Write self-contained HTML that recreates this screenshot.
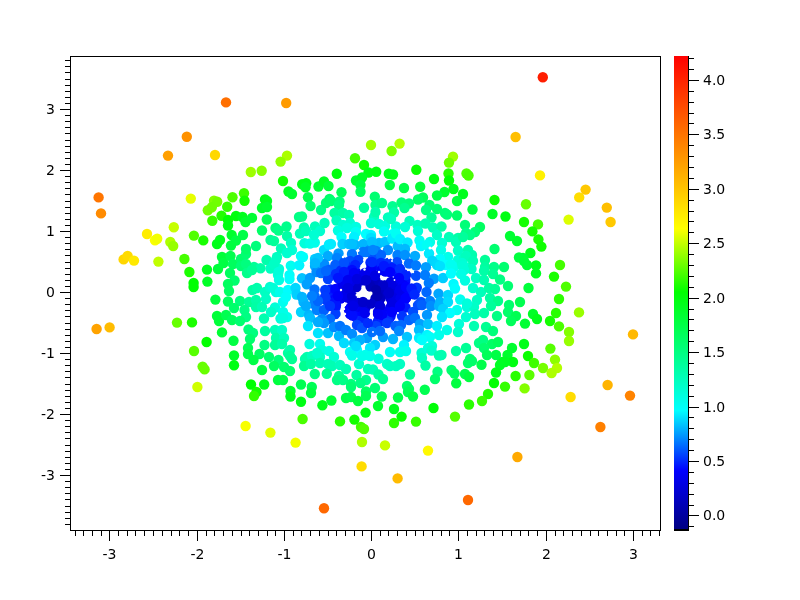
<!DOCTYPE html><html><head><meta charset="utf-8"><title>Scatter</title><style>html,body{margin:0;padding:0;background:#fff;overflow:hidden}svg{display:block}text{font-family:"DejaVu Sans","Liberation Sans",sans-serif;font-size:14px;fill:#000}</style></head><body>
<svg width="800" height="600" viewBox="0 0 800 600">
<rect width="800" height="600" fill="#fff"/>
<g>
<circle cx="350.5" cy="262.5" r="5.20" fill="#0041ff"/>
<circle cx="355.5" cy="262.5" r="5.20" fill="#0036ff"/>
<circle cx="370.5" cy="262.5" r="5.20" fill="#0027ff"/>
<circle cx="375.5" cy="262.5" r="5.20" fill="#0028ff"/>
<circle cx="380.5" cy="262.5" r="5.20" fill="#002cff"/>
<circle cx="343.0" cy="267.0" r="5.20" fill="#0039ff"/>
<circle cx="348.0" cy="267.0" r="5.20" fill="#0029ff"/>
<circle cx="353.0" cy="267.0" r="5.20" fill="#001cff"/>
<circle cx="373.0" cy="267.0" r="5.20" fill="#0005ff"/>
<circle cx="383.0" cy="267.0" r="5.20" fill="#000eff"/>
<circle cx="388.0" cy="267.0" r="5.20" fill="#0018ff"/>
<circle cx="393.0" cy="267.0" r="5.20" fill="#0024ff"/>
<circle cx="398.0" cy="267.0" r="5.20" fill="#0032ff"/>
<circle cx="340.5" cy="271.5" r="5.20" fill="#0028ff"/>
<circle cx="345.5" cy="271.5" r="5.20" fill="#0016ff"/>
<circle cx="350.5" cy="271.5" r="5.20" fill="#0006ff"/>
<circle cx="355.5" cy="271.5" r="5.20" fill="#0000fb"/>
<circle cx="370.5" cy="271.5" r="5.20" fill="#0000f0"/>
<circle cx="385.5" cy="271.5" r="5.20" fill="#0000f9"/>
<circle cx="390.5" cy="271.5" r="5.20" fill="#0000ff"/>
<circle cx="395.5" cy="271.5" r="5.20" fill="#000fff"/>
<circle cx="400.5" cy="271.5" r="5.20" fill="#0021ff"/>
<circle cx="338.0" cy="276.0" r="5.20" fill="#001dff"/>
<circle cx="343.0" cy="276.0" r="5.20" fill="#0008ff"/>
<circle cx="348.0" cy="276.0" r="5.20" fill="#0000f9"/>
<circle cx="353.0" cy="276.0" r="5.20" fill="#0000f0"/>
<circle cx="358.0" cy="276.0" r="5.20" fill="#0000e9"/>
<circle cx="363.0" cy="276.0" r="5.20" fill="#0000e3"/>
<circle cx="368.0" cy="276.0" r="5.20" fill="#0000e0"/>
<circle cx="373.0" cy="276.0" r="5.20" fill="#0000df"/>
<circle cx="403.0" cy="276.0" r="5.20" fill="#0014ff"/>
<circle cx="340.5" cy="280.5" r="5.20" fill="#0000ff"/>
<circle cx="345.5" cy="280.5" r="5.20" fill="#0000f3"/>
<circle cx="350.5" cy="280.5" r="5.20" fill="#0000e8"/>
<circle cx="355.5" cy="280.5" r="5.20" fill="#0000df"/>
<circle cx="360.5" cy="280.5" r="5.20" fill="#0000d6"/>
<circle cx="365.5" cy="280.5" r="5.20" fill="#0000d0"/>
<circle cx="370.5" cy="280.5" r="5.20" fill="#0000ce"/>
<circle cx="375.5" cy="280.5" r="5.20" fill="#0000cf"/>
<circle cx="400.5" cy="280.5" r="5.20" fill="#0000fa"/>
<circle cx="405.5" cy="280.5" r="5.20" fill="#000dff"/>
<circle cx="348.0" cy="285.0" r="5.20" fill="#0000e5"/>
<circle cx="353.0" cy="285.0" r="5.20" fill="#0000d9"/>
<circle cx="373.0" cy="285.0" r="5.20" fill="#0000bd"/>
<circle cx="378.0" cy="285.0" r="5.20" fill="#0000c1"/>
<circle cx="388.0" cy="285.0" r="5.20" fill="#0000d4"/>
<circle cx="398.0" cy="285.0" r="5.20" fill="#0000ec"/>
<circle cx="403.0" cy="285.0" r="5.20" fill="#0000f9"/>
<circle cx="330.5" cy="289.5" r="5.20" fill="#001eff"/>
<circle cx="350.5" cy="289.5" r="5.20" fill="#0000d9"/>
<circle cx="380.5" cy="289.5" r="5.20" fill="#0000ba"/>
<circle cx="385.5" cy="289.5" r="5.20" fill="#0000c7"/>
<circle cx="390.5" cy="289.5" r="5.20" fill="#0000d4"/>
<circle cx="395.5" cy="289.5" r="5.20" fill="#0000e1"/>
<circle cx="400.5" cy="289.5" r="5.20" fill="#0000ee"/>
<circle cx="405.5" cy="289.5" r="5.20" fill="#0000fc"/>
<circle cx="410.5" cy="289.5" r="5.20" fill="#0013ff"/>
<circle cx="415.5" cy="289.5" r="5.20" fill="#002eff"/>
<circle cx="333.0" cy="294.0" r="5.20" fill="#0010ff"/>
<circle cx="348.0" cy="294.0" r="5.20" fill="#0000df"/>
<circle cx="378.0" cy="294.0" r="5.20" fill="#0000b2"/>
<circle cx="383.0" cy="294.0" r="5.20" fill="#0000bf"/>
<circle cx="388.0" cy="294.0" r="5.20" fill="#0000cc"/>
<circle cx="393.0" cy="294.0" r="5.20" fill="#0000da"/>
<circle cx="398.0" cy="294.0" r="5.20" fill="#0000e7"/>
<circle cx="403.0" cy="294.0" r="5.20" fill="#0000f4"/>
<circle cx="408.0" cy="294.0" r="5.20" fill="#0005ff"/>
<circle cx="413.0" cy="294.0" r="5.20" fill="#0020ff"/>
<circle cx="330.5" cy="298.5" r="5.20" fill="#0021ff"/>
<circle cx="335.5" cy="298.5" r="5.20" fill="#0008ff"/>
<circle cx="340.5" cy="298.5" r="5.20" fill="#0000f6"/>
<circle cx="350.5" cy="298.5" r="5.20" fill="#0000dd"/>
<circle cx="375.5" cy="298.5" r="5.20" fill="#0000b9"/>
<circle cx="380.5" cy="298.5" r="5.20" fill="#0000c1"/>
<circle cx="390.5" cy="298.5" r="5.20" fill="#0000d8"/>
<circle cx="395.5" cy="298.5" r="5.20" fill="#0000e4"/>
<circle cx="400.5" cy="298.5" r="5.20" fill="#0000f1"/>
<circle cx="405.5" cy="298.5" r="5.20" fill="#0000fe"/>
<circle cx="333.0" cy="303.0" r="5.20" fill="#001eff"/>
<circle cx="353.0" cy="303.0" r="5.20" fill="#0000e0"/>
<circle cx="358.0" cy="303.0" r="5.20" fill="#0000d6"/>
<circle cx="363.0" cy="303.0" r="5.20" fill="#0000ce"/>
<circle cx="378.0" cy="303.0" r="5.20" fill="#0000cc"/>
<circle cx="393.0" cy="303.0" r="5.20" fill="#0000e6"/>
<circle cx="398.0" cy="303.0" r="5.20" fill="#0000f1"/>
<circle cx="403.0" cy="303.0" r="5.20" fill="#0000fd"/>
<circle cx="335.5" cy="307.5" r="5.20" fill="#0022ff"/>
<circle cx="350.5" cy="307.5" r="5.20" fill="#0000f0"/>
<circle cx="355.5" cy="307.5" r="5.20" fill="#0000e7"/>
<circle cx="360.5" cy="307.5" r="5.20" fill="#0000e0"/>
<circle cx="365.5" cy="307.5" r="5.20" fill="#0000db"/>
<circle cx="380.5" cy="307.5" r="5.20" fill="#0000de"/>
<circle cx="390.5" cy="307.5" r="5.20" fill="#0000ed"/>
<circle cx="395.5" cy="307.5" r="5.20" fill="#0000f6"/>
<circle cx="400.5" cy="307.5" r="5.20" fill="#0003ff"/>
<circle cx="405.5" cy="307.5" r="5.20" fill="#0019ff"/>
<circle cx="353.0" cy="312.0" r="5.20" fill="#0000f9"/>
<circle cx="358.0" cy="312.0" r="5.20" fill="#0000f3"/>
<circle cx="363.0" cy="312.0" r="5.20" fill="#0000ee"/>
<circle cx="378.0" cy="312.0" r="5.20" fill="#0000ec"/>
<circle cx="383.0" cy="312.0" r="5.20" fill="#0000f1"/>
<circle cx="388.0" cy="312.0" r="5.20" fill="#0000f7"/>
<circle cx="355.5" cy="316.5" r="5.20" fill="#000cff"/>
<circle cx="360.5" cy="316.5" r="5.20" fill="#0003ff"/>
<circle cx="380.5" cy="316.5" r="5.20" fill="#0000ff"/>
<circle cx="385.5" cy="316.5" r="5.20" fill="#0008ff"/>
<circle cx="390.5" cy="316.5" r="5.20" fill="#0013ff"/>
<circle cx="358.0" cy="321.0" r="5.20" fill="#0027ff"/>
<circle cx="363.0" cy="321.0" r="5.20" fill="#0020ff"/>
<circle cx="378.0" cy="321.0" r="5.20" fill="#001eff"/>
<circle cx="383.0" cy="321.0" r="5.20" fill="#0024ff"/>
<circle cx="388.0" cy="321.0" r="5.20" fill="#002cff"/>
<circle cx="186.8" cy="136.8" r="5.20" fill="#ff9200"/>
<circle cx="168.0" cy="155.6" r="5.20" fill="#ff9f00"/>
<circle cx="215.0" cy="155.0" r="5.20" fill="#ffd800"/>
<circle cx="226.0" cy="102.4" r="5.20" fill="#ff6f00"/>
<circle cx="286.2" cy="103.0" r="5.20" fill="#ff9b00"/>
<circle cx="355.0" cy="158.2" r="5.20" fill="#45ff00"/>
<circle cx="364.0" cy="165.0" r="5.20" fill="#11ff00"/>
<circle cx="287.0" cy="155.6" r="5.20" fill="#abff00"/>
<circle cx="280.6" cy="161.6" r="5.20" fill="#91ff00"/>
<circle cx="371.0" cy="145.0" r="5.20" fill="#a0ff00"/>
<circle cx="399.6" cy="143.6" r="5.20" fill="#b3ff00"/>
<circle cx="391.6" cy="151.0" r="5.20" fill="#7aff00"/>
<circle cx="453.0" cy="156.6" r="5.20" fill="#9fff00"/>
<circle cx="449.0" cy="162.6" r="5.20" fill="#6fff00"/>
<circle cx="515.6" cy="137.0" r="5.20" fill="#ffbf00"/>
<circle cx="542.8" cy="77.2" r="5.20" fill="#ff1e00"/>
<circle cx="98.6" cy="197.4" r="5.20" fill="#ff7500"/>
<circle cx="101.0" cy="213.4" r="5.20" fill="#ff8b00"/>
<circle cx="190.8" cy="198.6" r="5.20" fill="#e6ff00"/>
<circle cx="173.8" cy="227.2" r="5.20" fill="#c6ff00"/>
<circle cx="147.0" cy="234.0" r="5.20" fill="#ffed00"/>
<circle cx="155.0" cy="240.2" r="5.20" fill="#faff00"/>
<circle cx="157.2" cy="238.8" r="5.20" fill="#f3ff00"/>
<circle cx="170.3" cy="242.0" r="5.20" fill="#aeff00"/>
<circle cx="173.2" cy="246.0" r="5.20" fill="#96ff00"/>
<circle cx="193.9" cy="235.6" r="5.20" fill="#51ff00"/>
<circle cx="203.3" cy="240.4" r="5.20" fill="#18ff00"/>
<circle cx="214.0" cy="200.7" r="5.20" fill="#82ff00"/>
<circle cx="217.2" cy="201.7" r="5.20" fill="#71ff00"/>
<circle cx="207.8" cy="210.2" r="5.20" fill="#71ff00"/>
<circle cx="211.8" cy="207.2" r="5.20" fill="#6eff00"/>
<circle cx="227.2" cy="206.8" r="5.20" fill="#33ff00"/>
<circle cx="232.5" cy="197.2" r="5.20" fill="#4eff00"/>
<circle cx="244.0" cy="193.2" r="5.20" fill="#3bff00"/>
<circle cx="244.5" cy="200.8" r="5.20" fill="#12ff00"/>
<circle cx="212.3" cy="220.8" r="5.20" fill="#34ff00"/>
<circle cx="221.5" cy="215.8" r="5.20" fill="#22ff00"/>
<circle cx="228.0" cy="220.0" r="5.20" fill="#00ff05"/>
<circle cx="228.0" cy="225.5" r="5.20" fill="#00ff11"/>
<circle cx="236.0" cy="216.0" r="5.20" fill="#00ff0d"/>
<circle cx="242.5" cy="217.0" r="5.20" fill="#00ff1d"/>
<circle cx="245.5" cy="222.0" r="5.20" fill="#00ff2f"/>
<circle cx="252.0" cy="217.9" r="5.20" fill="#00ff33"/>
<circle cx="220.0" cy="240.0" r="5.20" fill="#00ff1b"/>
<circle cx="231.7" cy="235.0" r="5.20" fill="#00ff2d"/>
<circle cx="243.0" cy="235.0" r="5.20" fill="#00ff47"/>
<circle cx="236.0" cy="240.5" r="5.20" fill="#00ff42"/>
<circle cx="250.8" cy="172.0" r="5.20" fill="#9dff00"/>
<circle cx="261.7" cy="170.7" r="5.20" fill="#86ff00"/>
<circle cx="283.0" cy="181.0" r="5.20" fill="#11ff00"/>
<circle cx="288.5" cy="191.5" r="5.20" fill="#00ff21"/>
<circle cx="292.0" cy="194.0" r="5.20" fill="#00ff2e"/>
<circle cx="302.2" cy="184.2" r="5.20" fill="#00ff19"/>
<circle cx="306.2" cy="183.2" r="5.20" fill="#00ff1a"/>
<circle cx="305.5" cy="187.2" r="5.20" fill="#00ff27"/>
<circle cx="318.5" cy="186.5" r="5.20" fill="#00ff31"/>
<circle cx="324.0" cy="181.5" r="5.20" fill="#00ff24"/>
<circle cx="308.0" cy="197.2" r="5.20" fill="#00ff4d"/>
<circle cx="310.5" cy="206.0" r="5.20" fill="#00ff6e"/>
<circle cx="321.0" cy="210.0" r="5.20" fill="#00ff88"/>
<circle cx="326.0" cy="203.0" r="5.20" fill="#00ff74"/>
<circle cx="329.5" cy="199.0" r="5.20" fill="#00ff68"/>
<circle cx="265.0" cy="199.5" r="5.20" fill="#00ff17"/>
<circle cx="267.0" cy="201.0" r="5.20" fill="#00ff1f"/>
<circle cx="262.0" cy="208.0" r="5.20" fill="#00ff2b"/>
<circle cx="267.0" cy="207.0" r="5.20" fill="#00ff31"/>
<circle cx="266.8" cy="219.5" r="5.20" fill="#00ff54"/>
<circle cx="299.0" cy="217.0" r="5.20" fill="#00ff83"/>
<circle cx="302.0" cy="216.5" r="5.20" fill="#00ff86"/>
<circle cx="368.5" cy="172.5" r="5.20" fill="#00ff14"/>
<circle cx="376.2" cy="171.8" r="5.20" fill="#00ff11"/>
<circle cx="388.8" cy="173.8" r="5.20" fill="#00ff17"/>
<circle cx="393.0" cy="174.5" r="5.20" fill="#00ff18"/>
<circle cx="336.8" cy="173.8" r="5.20" fill="#00ff0f"/>
<circle cx="328.5" cy="186.0" r="5.20" fill="#00ff38"/>
<circle cx="356.0" cy="180.5" r="5.20" fill="#00ff31"/>
<circle cx="362.0" cy="177.5" r="5.20" fill="#00ff26"/>
<circle cx="360.5" cy="185.0" r="5.20" fill="#00ff43"/>
<circle cx="360.5" cy="191.8" r="5.20" fill="#00ff5d"/>
<circle cx="341.5" cy="192.2" r="5.20" fill="#00ff57"/>
<circle cx="389.8" cy="185.0" r="5.20" fill="#00ff41"/>
<circle cx="374.8" cy="196.8" r="5.20" fill="#00ff71"/>
<circle cx="364.0" cy="207.8" r="5.20" fill="#00ff9b"/>
<circle cx="331.0" cy="201.0" r="5.20" fill="#00ff71"/>
<circle cx="339.5" cy="201.5" r="5.20" fill="#00ff79"/>
<circle cx="339.0" cy="205.0" r="5.20" fill="#00ff85"/>
<circle cx="334.5" cy="213.0" r="5.20" fill="#00ff9f"/>
<circle cx="343.0" cy="213.0" r="5.20" fill="#00ffa6"/>
<circle cx="349.0" cy="215.0" r="5.20" fill="#00ffb1"/>
<circle cx="375.5" cy="205.0" r="5.20" fill="#00ff90"/>
<circle cx="382.0" cy="203.0" r="5.20" fill="#00ff88"/>
<circle cx="392.5" cy="206.2" r="5.20" fill="#00ff90"/>
<circle cx="394.0" cy="212.5" r="5.20" fill="#00ffa7"/>
<circle cx="374.0" cy="217.0" r="5.20" fill="#00ffbe"/>
<circle cx="388.0" cy="217.5" r="5.20" fill="#00ffbd"/>
<circle cx="262.0" cy="230.5" r="5.20" fill="#00ff66"/>
<circle cx="275.5" cy="228.0" r="5.20" fill="#00ff7b"/>
<circle cx="278.5" cy="230.5" r="5.20" fill="#00ff87"/>
<circle cx="286.5" cy="226.5" r="5.20" fill="#00ff8b"/>
<circle cx="287.0" cy="236.0" r="5.20" fill="#00ffa6"/>
<circle cx="270.5" cy="240.0" r="5.20" fill="#00ff8f"/>
<circle cx="274.0" cy="241.0" r="5.20" fill="#00ff98"/>
<circle cx="300.0" cy="233.5" r="5.20" fill="#00ffb7"/>
<circle cx="304.0" cy="227.5" r="5.20" fill="#00ffac"/>
<circle cx="306.0" cy="231.0" r="5.20" fill="#00ffba"/>
<circle cx="315.0" cy="226.5" r="5.20" fill="#00ffb9"/>
<circle cx="320.0" cy="231.0" r="5.20" fill="#00ffcf"/>
<circle cx="324.5" cy="223.0" r="5.20" fill="#00ffb9"/>
<circle cx="291.0" cy="243.0" r="5.20" fill="#00ffc1"/>
<circle cx="304.5" cy="243.2" r="5.20" fill="#00ffdb"/>
<circle cx="310.0" cy="243.5" r="5.20" fill="#00ffe6"/>
<circle cx="314.8" cy="242.5" r="5.20" fill="#00ffeb"/>
<circle cx="314.0" cy="235.0" r="5.20" fill="#00ffd3"/>
<circle cx="256.0" cy="246.0" r="5.20" fill="#00ff7b"/>
<circle cx="281.0" cy="248.5" r="5.20" fill="#00ffb8"/>
<circle cx="292.0" cy="250.0" r="5.20" fill="#00ffd4"/>
<circle cx="287.0" cy="253.0" r="5.20" fill="#00ffcf"/>
<circle cx="301.0" cy="256.0" r="5.20" fill="#00fff5"/>
<circle cx="303.0" cy="257.0" r="5.20" fill="#00fffb"/>
<circle cx="277.0" cy="257.0" r="5.20" fill="#00ffc0"/>
<circle cx="266.5" cy="260.0" r="5.20" fill="#00ffac"/>
<circle cx="290.8" cy="265.8" r="5.20" fill="#00fff0"/>
<circle cx="299.2" cy="265.2" r="5.20" fill="#00f6ff"/>
<circle cx="315.0" cy="259.0" r="5.20" fill="#00cbff"/>
<circle cx="320.0" cy="263.0" r="5.20" fill="#00a4ff"/>
<circle cx="324.0" cy="250.0" r="5.20" fill="#00dbff"/>
<circle cx="329.0" cy="244.5" r="5.20" fill="#00eeff"/>
<circle cx="254.0" cy="267.0" r="5.20" fill="#00ff96"/>
<circle cx="260.5" cy="268.2" r="5.20" fill="#00ffa8"/>
<circle cx="270.5" cy="268.5" r="5.20" fill="#00ffc2"/>
<circle cx="279.0" cy="269.0" r="5.20" fill="#00ffd8"/>
<circle cx="375.5" cy="212.0" r="5.20" fill="#00ffab"/>
<circle cx="336.5" cy="220.5" r="5.20" fill="#00ffbc"/>
<circle cx="343.0" cy="225.0" r="5.20" fill="#00ffd2"/>
<circle cx="350.0" cy="223.0" r="5.20" fill="#00ffcf"/>
<circle cx="356.0" cy="227.0" r="5.20" fill="#00ffe1"/>
<circle cx="338.0" cy="230.5" r="5.20" fill="#00ffe2"/>
<circle cx="347.0" cy="228.0" r="5.20" fill="#00ffe0"/>
<circle cx="371.0" cy="223.0" r="5.20" fill="#00ffd5"/>
<circle cx="379.0" cy="224.0" r="5.20" fill="#00ffd8"/>
<circle cx="385.0" cy="226.0" r="5.20" fill="#00ffde"/>
<circle cx="396.0" cy="226.5" r="5.20" fill="#00ffda"/>
<circle cx="356.0" cy="232.0" r="5.20" fill="#00fff4"/>
<circle cx="366.0" cy="234.0" r="5.20" fill="#00ffff"/>
<circle cx="371.0" cy="235.0" r="5.20" fill="#00f6ff"/>
<circle cx="384.0" cy="231.5" r="5.20" fill="#00fff4"/>
<circle cx="393.0" cy="234.0" r="5.20" fill="#00fff8"/>
<circle cx="341.5" cy="237.0" r="5.20" fill="#00fffc"/>
<circle cx="354.0" cy="237.0" r="5.20" fill="#00f1ff"/>
<circle cx="331.0" cy="244.0" r="5.20" fill="#00ecff"/>
<circle cx="342.5" cy="244.0" r="5.20" fill="#00d1ff"/>
<circle cx="349.0" cy="244.0" r="5.20" fill="#00c5ff"/>
<circle cx="355.0" cy="245.0" r="5.20" fill="#00b5ff"/>
<circle cx="363.5" cy="244.0" r="5.20" fill="#00b5ff"/>
<circle cx="371.0" cy="238.0" r="5.20" fill="#00e0ff"/>
<circle cx="379.0" cy="243.0" r="5.20" fill="#00bcff"/>
<circle cx="385.0" cy="242.0" r="5.20" fill="#00c8ff"/>
<circle cx="392.2" cy="238.5" r="5.20" fill="#00eaff"/>
<circle cx="397.8" cy="246.2" r="5.20" fill="#00bcff"/>
<circle cx="338.5" cy="253.5" r="5.20" fill="#009aff"/>
<circle cx="352.0" cy="254.0" r="5.20" fill="#0079ff"/>
<circle cx="363.0" cy="252.0" r="5.20" fill="#0079ff"/>
<circle cx="370.0" cy="250.0" r="5.20" fill="#0085ff"/>
<circle cx="376.0" cy="251.0" r="5.20" fill="#007fff"/>
<circle cx="388.0" cy="250.0" r="5.20" fill="#0091ff"/>
<circle cx="328.0" cy="256.0" r="5.20" fill="#00abff"/>
<circle cx="337.0" cy="258.0" r="5.20" fill="#0082ff"/>
<circle cx="350.0" cy="261.0" r="5.20" fill="#004cff"/>
<circle cx="358.5" cy="260.0" r="5.20" fill="#0043ff"/>
<circle cx="373.0" cy="257.0" r="5.20" fill="#0050ff"/>
<circle cx="381.0" cy="255.0" r="5.20" fill="#0064ff"/>
<circle cx="397.5" cy="255.0" r="5.20" fill="#007fff"/>
<circle cx="324.3" cy="264.3" r="5.20" fill="#008cff"/>
<circle cx="335.3" cy="265.0" r="5.20" fill="#005eff"/>
<circle cx="346.0" cy="266.0" r="5.20" fill="#0035ff"/>
<circle cx="355.3" cy="265.0" r="5.20" fill="#0025ff"/>
<circle cx="371.5" cy="266.0" r="5.20" fill="#000cff"/>
<circle cx="381.0" cy="263.0" r="5.20" fill="#0029ff"/>
<circle cx="388.0" cy="263.0" r="5.20" fill="#0033ff"/>
<circle cx="397.0" cy="262.2" r="5.20" fill="#004dff"/>
<circle cx="329.0" cy="270.0" r="5.20" fill="#005eff"/>
<circle cx="341.0" cy="270.5" r="5.20" fill="#002cff"/>
<circle cx="352.0" cy="270.0" r="5.20" fill="#000bff"/>
<circle cx="371.0" cy="269.5" r="5.20" fill="#0000f8"/>
<circle cx="382.0" cy="270.0" r="5.20" fill="#0000fa"/>
<circle cx="394.0" cy="270.0" r="5.20" fill="#0014ff"/>
<circle cx="416.3" cy="169.8" r="5.20" fill="#0aff00"/>
<circle cx="448.5" cy="173.5" r="5.20" fill="#27ff00"/>
<circle cx="466.5" cy="173.5" r="5.20" fill="#4fff00"/>
<circle cx="434.0" cy="179.0" r="5.20" fill="#00ff0e"/>
<circle cx="449.0" cy="180.5" r="5.20" fill="#00ff03"/>
<circle cx="404.0" cy="188.0" r="5.20" fill="#00ff46"/>
<circle cx="420.2" cy="186.7" r="5.20" fill="#00ff36"/>
<circle cx="444.5" cy="192.0" r="5.20" fill="#00ff30"/>
<circle cx="453.5" cy="189.0" r="5.20" fill="#00ff1a"/>
<circle cx="437.0" cy="195.5" r="5.20" fill="#00ff45"/>
<circle cx="463.0" cy="194.0" r="5.20" fill="#00ff1e"/>
<circle cx="457.0" cy="201.0" r="5.20" fill="#00ff3d"/>
<circle cx="423.0" cy="197.5" r="5.20" fill="#00ff5a"/>
<circle cx="418.0" cy="199.5" r="5.20" fill="#00ff66"/>
<circle cx="401.5" cy="202.5" r="5.20" fill="#00ff7e"/>
<circle cx="409.0" cy="203.5" r="5.20" fill="#00ff7c"/>
<circle cx="404.5" cy="208.0" r="5.20" fill="#00ff90"/>
<circle cx="429.5" cy="205.0" r="5.20" fill="#00ff6e"/>
<circle cx="426.0" cy="210.0" r="5.20" fill="#00ff84"/>
<circle cx="437.0" cy="209.0" r="5.20" fill="#00ff73"/>
<circle cx="445.0" cy="213.0" r="5.20" fill="#00ff75"/>
<circle cx="447.0" cy="214.5" r="5.20" fill="#00ff77"/>
<circle cx="457.0" cy="215.5" r="5.20" fill="#00ff6a"/>
<circle cx="431.5" cy="217.5" r="5.20" fill="#00ff96"/>
<circle cx="468.5" cy="175.5" r="5.20" fill="#48ff00"/>
<circle cx="494.5" cy="200.0" r="5.20" fill="#08ff00"/>
<circle cx="472.5" cy="209.5" r="5.20" fill="#00ff3e"/>
<circle cx="526.0" cy="204.2" r="5.20" fill="#66ff00"/>
<circle cx="492.5" cy="214.0" r="5.20" fill="#00ff25"/>
<circle cx="505.5" cy="216.5" r="5.20" fill="#00ff11"/>
<circle cx="540.0" cy="175.4" r="5.20" fill="#fff100"/>
<circle cx="585.6" cy="189.6" r="5.20" fill="#ffc800"/>
<circle cx="579.2" cy="197.4" r="5.20" fill="#ffdd00"/>
<circle cx="606.8" cy="207.6" r="5.20" fill="#ffbf00"/>
<circle cx="610.6" cy="222.0" r="5.20" fill="#ffc900"/>
<circle cx="568.6" cy="219.6" r="5.20" fill="#dcff00"/>
<circle cx="524.0" cy="222.0" r="5.20" fill="#13ff00"/>
<circle cx="538.0" cy="224.4" r="5.20" fill="#45ff00"/>
<circle cx="532.4" cy="231.4" r="5.20" fill="#14ff00"/>
<circle cx="538.4" cy="239.4" r="5.20" fill="#16ff00"/>
<circle cx="541.4" cy="246.6" r="5.20" fill="#0fff00"/>
<circle cx="530.4" cy="253.0" r="5.20" fill="#00ff1c"/>
<circle cx="523.0" cy="258.0" r="5.20" fill="#00ff35"/>
<circle cx="527.0" cy="265.0" r="5.20" fill="#00ff32"/>
<circle cx="536.0" cy="265.4" r="5.20" fill="#00ff1b"/>
<circle cx="536.0" cy="273.4" r="5.20" fill="#00ff21"/>
<circle cx="560.0" cy="265.0" r="5.20" fill="#44ff00"/>
<circle cx="554.0" cy="276.6" r="5.20" fill="#18ff00"/>
<circle cx="409.5" cy="221.0" r="5.20" fill="#00ffbb"/>
<circle cx="391.0" cy="219.0" r="5.20" fill="#00ffc1"/>
<circle cx="405.0" cy="227.0" r="5.20" fill="#00ffd5"/>
<circle cx="417.5" cy="225.0" r="5.20" fill="#00ffc1"/>
<circle cx="425.5" cy="223.5" r="5.20" fill="#00ffb2"/>
<circle cx="433.0" cy="227.5" r="5.20" fill="#00ffb5"/>
<circle cx="441.5" cy="226.5" r="5.20" fill="#00ffa5"/>
<circle cx="465.0" cy="225.0" r="5.20" fill="#00ff78"/>
<circle cx="396.0" cy="233.5" r="5.20" fill="#00fff4"/>
<circle cx="418.0" cy="231.0" r="5.20" fill="#00ffd5"/>
<circle cx="466.0" cy="233.0" r="5.20" fill="#00ff8b"/>
<circle cx="437.0" cy="235.0" r="5.20" fill="#00ffc6"/>
<circle cx="449.0" cy="237.0" r="5.20" fill="#00ffb7"/>
<circle cx="458.0" cy="238.0" r="5.20" fill="#00ffa8"/>
<circle cx="400.0" cy="239.0" r="5.20" fill="#00f3ff"/>
<circle cx="407.5" cy="242.5" r="5.20" fill="#00ebff"/>
<circle cx="419.5" cy="240.5" r="5.20" fill="#00fff3"/>
<circle cx="430.0" cy="242.0" r="5.20" fill="#00ffe7"/>
<circle cx="442.0" cy="243.0" r="5.20" fill="#00ffd4"/>
<circle cx="456.0" cy="242.0" r="5.20" fill="#00ffb6"/>
<circle cx="405.0" cy="249.0" r="5.20" fill="#00b9ff"/>
<circle cx="421.0" cy="246.0" r="5.20" fill="#00faff"/>
<circle cx="427.0" cy="245.0" r="5.20" fill="#00fff5"/>
<circle cx="441.0" cy="250.0" r="5.20" fill="#00ffe8"/>
<circle cx="458.0" cy="250.5" r="5.20" fill="#00ffc6"/>
<circle cx="468.0" cy="250.0" r="5.20" fill="#00ffae"/>
<circle cx="415.0" cy="256.0" r="5.20" fill="#00abff"/>
<circle cx="429.0" cy="253.5" r="5.20" fill="#00ebff"/>
<circle cx="405.0" cy="255.0" r="5.20" fill="#0092ff"/>
<circle cx="448.0" cy="257.0" r="5.20" fill="#00ffea"/>
<circle cx="440.0" cy="259.0" r="5.20" fill="#00fdff"/>
<circle cx="432.2" cy="260.8" r="5.20" fill="#00d5ff"/>
<circle cx="458.0" cy="260.0" r="5.20" fill="#00ffd9"/>
<circle cx="464.0" cy="258.0" r="5.20" fill="#00ffc7"/>
<circle cx="409.0" cy="263.5" r="5.20" fill="#006bff"/>
<circle cx="416.0" cy="265.5" r="5.20" fill="#007bff"/>
<circle cx="425.9" cy="267.2" r="5.20" fill="#009dff"/>
<circle cx="437.0" cy="265.0" r="5.20" fill="#00d8ff"/>
<circle cx="446.0" cy="265.0" r="5.20" fill="#00fffe"/>
<circle cx="454.0" cy="267.0" r="5.20" fill="#00ffee"/>
<circle cx="392.0" cy="268.0" r="5.20" fill="#001bff"/>
<circle cx="400.0" cy="269.0" r="5.20" fill="#002dff"/>
<circle cx="465.5" cy="267.0" r="5.20" fill="#00ffd2"/>
<circle cx="510.0" cy="236.0" r="5.20" fill="#00ff32"/>
<circle cx="517.0" cy="241.0" r="5.20" fill="#00ff2b"/>
<circle cx="480.0" cy="227.0" r="5.20" fill="#00ff60"/>
<circle cx="475.0" cy="232.0" r="5.20" fill="#00ff76"/>
<circle cx="470.0" cy="235.0" r="5.20" fill="#00ff88"/>
<circle cx="463.0" cy="237.0" r="5.20" fill="#00ff9b"/>
<circle cx="494.5" cy="249.0" r="5.20" fill="#00ff6e"/>
<circle cx="472.0" cy="255.0" r="5.20" fill="#00ffaf"/>
<circle cx="466.0" cy="256.0" r="5.20" fill="#00ffbe"/>
<circle cx="473.0" cy="261.0" r="5.20" fill="#00ffb6"/>
<circle cx="485.0" cy="260.0" r="5.20" fill="#00ff97"/>
<circle cx="519.0" cy="257.5" r="5.20" fill="#00ff3e"/>
<circle cx="524.0" cy="261.0" r="5.20" fill="#00ff36"/>
<circle cx="485.0" cy="267.0" r="5.20" fill="#00ffa0"/>
<circle cx="494.0" cy="267.0" r="5.20" fill="#00ff89"/>
<circle cx="504.0" cy="267.0" r="5.20" fill="#00ff70"/>
<circle cx="462.0" cy="263.0" r="5.20" fill="#00ffd4"/>
<circle cx="471.5" cy="269.0" r="5.20" fill="#00ffc5"/>
<circle cx="123.6" cy="259.4" r="5.20" fill="#ffd600"/>
<circle cx="127.6" cy="256.0" r="5.20" fill="#ffdb00"/>
<circle cx="134.0" cy="260.6" r="5.20" fill="#ffe900"/>
<circle cx="158.4" cy="261.6" r="5.20" fill="#c1ff00"/>
<circle cx="184.4" cy="259.0" r="5.20" fill="#46ff00"/>
<circle cx="189.4" cy="272.0" r="5.20" fill="#1bff00"/>
<circle cx="207.0" cy="269.6" r="5.20" fill="#00ff1e"/>
<circle cx="218.0" cy="269.0" r="5.20" fill="#00ff3b"/>
<circle cx="193.6" cy="283.0" r="5.20" fill="#00ff02"/>
<circle cx="193.6" cy="287.0" r="5.20" fill="#00ff03"/>
<circle cx="207.4" cy="281.6" r="5.20" fill="#00ff26"/>
<circle cx="215.4" cy="299.6" r="5.20" fill="#00ff3d"/>
<circle cx="177.0" cy="322.6" r="5.20" fill="#65ff00"/>
<circle cx="192.0" cy="322.4" r="5.20" fill="#1bff00"/>
<circle cx="217.0" cy="316.0" r="5.20" fill="#00ff38"/>
<circle cx="219.0" cy="321.0" r="5.20" fill="#00ff39"/>
<circle cx="206.6" cy="342.0" r="5.20" fill="#02ff00"/>
<circle cx="194.0" cy="351.0" r="5.20" fill="#56ff00"/>
<circle cx="96.6" cy="329.0" r="5.20" fill="#ffa300"/>
<circle cx="109.6" cy="327.4" r="5.20" fill="#ffbc00"/>
<circle cx="222.0" cy="257.0" r="5.20" fill="#00ff39"/>
<circle cx="223.5" cy="263.0" r="5.20" fill="#00ff43"/>
<circle cx="230.5" cy="256.0" r="5.20" fill="#00ff4d"/>
<circle cx="233.0" cy="264.0" r="5.20" fill="#00ff5d"/>
<circle cx="230.0" cy="273.0" r="5.20" fill="#00ff5d"/>
<circle cx="234.5" cy="280.5" r="5.20" fill="#00ff6e"/>
<circle cx="228.0" cy="284.0" r="5.20" fill="#00ff5e"/>
<circle cx="229.0" cy="291.0" r="5.20" fill="#00ff62"/>
<circle cx="228.0" cy="301.5" r="5.20" fill="#00ff5e"/>
<circle cx="241.0" cy="259.0" r="5.20" fill="#00ff6b"/>
<circle cx="246.0" cy="254.0" r="5.20" fill="#00ff71"/>
<circle cx="241.0" cy="266.0" r="5.20" fill="#00ff74"/>
<circle cx="246.0" cy="264.0" r="5.20" fill="#00ff7e"/>
<circle cx="247.0" cy="273.0" r="5.20" fill="#00ff8a"/>
<circle cx="252.0" cy="270.0" r="5.20" fill="#00ff94"/>
<circle cx="276.0" cy="260.0" r="5.20" fill="#00ffc3"/>
<circle cx="278.0" cy="275.0" r="5.20" fill="#00ffdc"/>
<circle cx="252.5" cy="290.0" r="5.20" fill="#00ffa1"/>
<circle cx="257.0" cy="288.0" r="5.20" fill="#00ffac"/>
<circle cx="265.0" cy="292.0" r="5.20" fill="#00ffc2"/>
<circle cx="270.0" cy="287.0" r="5.20" fill="#00ffcf"/>
<circle cx="276.0" cy="292.0" r="5.20" fill="#00ffe0"/>
<circle cx="240.0" cy="301.0" r="5.20" fill="#00ff7e"/>
<circle cx="249.0" cy="302.0" r="5.20" fill="#00ff96"/>
<circle cx="256.0" cy="300.0" r="5.20" fill="#00ffa9"/>
<circle cx="266.0" cy="299.0" r="5.20" fill="#00ffc4"/>
<circle cx="275.0" cy="307.5" r="5.20" fill="#00ffd7"/>
<circle cx="234.0" cy="308.0" r="5.20" fill="#00ff6b"/>
<circle cx="244.5" cy="310.0" r="5.20" fill="#00ff85"/>
<circle cx="256.0" cy="307.0" r="5.20" fill="#00ffa5"/>
<circle cx="274.0" cy="264.0" r="5.20" fill="#00ffc5"/>
<circle cx="278.5" cy="272.0" r="5.20" fill="#00ffda"/>
<circle cx="273.0" cy="288.0" r="5.20" fill="#00ffd7"/>
<circle cx="279.0" cy="280.0" r="5.20" fill="#00ffe3"/>
<circle cx="280.0" cy="292.0" r="5.20" fill="#00ffeb"/>
<circle cx="283.0" cy="302.0" r="5.20" fill="#00fff0"/>
<circle cx="283.0" cy="312.0" r="5.20" fill="#00ffe7"/>
<circle cx="280.5" cy="318.5" r="5.20" fill="#00ffd8"/>
<circle cx="289.5" cy="275.0" r="5.20" fill="#00fffa"/>
<circle cx="289.5" cy="279.0" r="5.20" fill="#00fffe"/>
<circle cx="288.0" cy="290.0" r="5.20" fill="#00fdff"/>
<circle cx="295.5" cy="288.0" r="5.20" fill="#00d7ff"/>
<circle cx="296.5" cy="294.5" r="5.20" fill="#00d0ff"/>
<circle cx="286.0" cy="297.0" r="5.20" fill="#00fffa"/>
<circle cx="302.0" cy="278.2" r="5.20" fill="#00c3ff"/>
<circle cx="310.0" cy="278.0" r="5.20" fill="#009bff"/>
<circle cx="306.8" cy="284.2" r="5.20" fill="#00a0ff"/>
<circle cx="303.5" cy="302.0" r="5.20" fill="#00b2ff"/>
<circle cx="301.0" cy="312.0" r="5.20" fill="#00d4ff"/>
<circle cx="309.0" cy="315.0" r="5.20" fill="#00b7ff"/>
<circle cx="315.0" cy="266.0" r="5.20" fill="#00abff"/>
<circle cx="316.5" cy="272.0" r="5.20" fill="#008dff"/>
<circle cx="314.5" cy="289.5" r="5.20" fill="#0072ff"/>
<circle cx="314.8" cy="296.5" r="5.20" fill="#0071ff"/>
<circle cx="314.0" cy="304.0" r="5.20" fill="#0080ff"/>
<circle cx="317.0" cy="310.0" r="5.20" fill="#0081ff"/>
<circle cx="321.0" cy="273.0" r="5.20" fill="#0075ff"/>
<circle cx="325.2" cy="290.0" r="5.20" fill="#0039ff"/>
<circle cx="326.0" cy="300.0" r="5.20" fill="#003bff"/>
<circle cx="324.0" cy="310.0" r="5.20" fill="#0060ff"/>
<circle cx="328.0" cy="279.0" r="5.20" fill="#0040ff"/>
<circle cx="336.0" cy="274.0" r="5.20" fill="#002eff"/>
<circle cx="335.5" cy="289.0" r="5.20" fill="#0004ff"/>
<circle cx="343.0" cy="285.0" r="5.20" fill="#0000f1"/>
<circle cx="335.0" cy="302.0" r="5.20" fill="#0012ff"/>
<circle cx="335.5" cy="314.0" r="5.20" fill="#003eff"/>
<circle cx="346.0" cy="278.0" r="5.20" fill="#0000f8"/>
<circle cx="346.0" cy="290.0" r="5.20" fill="#0000e5"/>
<circle cx="347.5" cy="297.5" r="5.20" fill="#0000e3"/>
<circle cx="349.0" cy="310.0" r="5.20" fill="#0000fa"/>
<circle cx="330.0" cy="319.0" r="5.20" fill="#006dff"/>
<circle cx="322.0" cy="319.0" r="5.20" fill="#008dff"/>
<circle cx="344.0" cy="262.5" r="5.20" fill="#0051ff"/>
<circle cx="346.0" cy="274.0" r="5.20" fill="#0006ff"/>
<circle cx="357.0" cy="276.0" r="5.20" fill="#0000ea"/>
<circle cx="375.0" cy="275.5" r="5.20" fill="#0000e2"/>
<circle cx="384.0" cy="266.0" r="5.20" fill="#0017ff"/>
<circle cx="390.0" cy="272.0" r="5.20" fill="#0000fd"/>
<circle cx="406.0" cy="275.0" r="5.20" fill="#0025ff"/>
<circle cx="399.0" cy="278.0" r="5.20" fill="#0000fc"/>
<circle cx="391.0" cy="282.0" r="5.20" fill="#0000e2"/>
<circle cx="383.0" cy="285.0" r="5.20" fill="#0000ca"/>
<circle cx="370.5" cy="286.5" r="5.20" fill="#0000b7"/>
<circle cx="377.5" cy="296.0" r="5.20" fill="#0000b5"/>
<circle cx="356.5" cy="287.0" r="5.20" fill="#0000cd"/>
<circle cx="350.0" cy="282.0" r="5.20" fill="#0000e6"/>
<circle cx="344.0" cy="295.0" r="5.20" fill="#0000ea"/>
<circle cx="352.0" cy="296.0" r="5.20" fill="#0000d6"/>
<circle cx="354.0" cy="303.5" r="5.20" fill="#0000df"/>
<circle cx="363.0" cy="302.0" r="5.20" fill="#0000cb"/>
<circle cx="371.0" cy="303.5" r="5.20" fill="#0000ca"/>
<circle cx="380.0" cy="306.0" r="5.20" fill="#0000d8"/>
<circle cx="392.0" cy="303.0" r="5.20" fill="#0000e4"/>
<circle cx="389.0" cy="293.0" r="5.20" fill="#0000cf"/>
<circle cx="400.0" cy="290.0" r="5.20" fill="#0000ed"/>
<circle cx="406.0" cy="298.0" r="5.20" fill="#0000ff"/>
<circle cx="406.0" cy="287.0" r="5.20" fill="#0000ff"/>
<circle cx="415.0" cy="290.0" r="5.20" fill="#002bff"/>
<circle cx="416.0" cy="275.8" r="5.20" fill="#004fff"/>
<circle cx="400.0" cy="306.0" r="5.20" fill="#0000fc"/>
<circle cx="392.0" cy="312.0" r="5.20" fill="#0000fd"/>
<circle cx="382.0" cy="315.0" r="5.20" fill="#0000fa"/>
<circle cx="365.0" cy="313.0" r="5.20" fill="#0000f0"/>
<circle cx="350.0" cy="314.0" r="5.20" fill="#000aff"/>
<circle cx="402.0" cy="316.0" r="5.20" fill="#0034ff"/>
<circle cx="413.0" cy="312.0" r="5.20" fill="#004cff"/>
<circle cx="418.0" cy="305.0" r="5.20" fill="#004bff"/>
<circle cx="528.5" cy="288.0" r="5.20" fill="#00ff3b"/>
<circle cx="464.0" cy="270.0" r="5.20" fill="#00ffd9"/>
<circle cx="484.0" cy="271.0" r="5.20" fill="#00ffa7"/>
<circle cx="493.0" cy="274.0" r="5.20" fill="#00ff93"/>
<circle cx="465.0" cy="280.5" r="5.20" fill="#00ffe1"/>
<circle cx="476.0" cy="278.0" r="5.20" fill="#00ffc2"/>
<circle cx="484.0" cy="280.0" r="5.20" fill="#00ffaf"/>
<circle cx="500.0" cy="279.5" r="5.20" fill="#00ff84"/>
<circle cx="508.0" cy="286.0" r="5.20" fill="#00ff71"/>
<circle cx="473.0" cy="288.0" r="5.20" fill="#00ffcf"/>
<circle cx="481.0" cy="292.0" r="5.20" fill="#00ffba"/>
<circle cx="489.0" cy="288.0" r="5.20" fill="#00ffa4"/>
<circle cx="495.0" cy="289.0" r="5.20" fill="#00ff95"/>
<circle cx="460.2" cy="299.5" r="5.20" fill="#00fff0"/>
<circle cx="477.0" cy="300.0" r="5.20" fill="#00ffc4"/>
<circle cx="490.0" cy="298.0" r="5.20" fill="#00ffa2"/>
<circle cx="498.0" cy="301.0" r="5.20" fill="#00ff8b"/>
<circle cx="491.0" cy="306.0" r="5.20" fill="#00ff9b"/>
<circle cx="467.0" cy="307.0" r="5.20" fill="#00ffda"/>
<circle cx="474.0" cy="307.0" r="5.20" fill="#00ffc8"/>
<circle cx="509.0" cy="305.0" r="5.20" fill="#00ff6c"/>
<circle cx="520.0" cy="302.0" r="5.20" fill="#00ff50"/>
<circle cx="508.0" cy="312.0" r="5.20" fill="#00ff6a"/>
<circle cx="516.0" cy="316.0" r="5.20" fill="#00ff52"/>
<circle cx="533.0" cy="314.0" r="5.20" fill="#00ff27"/>
<circle cx="466.0" cy="317.0" r="5.20" fill="#00ffd2"/>
<circle cx="475.0" cy="314.0" r="5.20" fill="#00ffbe"/>
<circle cx="484.0" cy="313.0" r="5.20" fill="#00ffa8"/>
<circle cx="497.0" cy="316.0" r="5.20" fill="#00ff84"/>
<circle cx="440.0" cy="266.0" r="5.20" fill="#00e1ff"/>
<circle cx="451.0" cy="264.5" r="5.20" fill="#00fff1"/>
<circle cx="462.5" cy="266.0" r="5.20" fill="#00ffd8"/>
<circle cx="425.0" cy="275.0" r="5.20" fill="#007cff"/>
<circle cx="434.0" cy="278.8" r="5.20" fill="#009eff"/>
<circle cx="443.0" cy="278.0" r="5.20" fill="#00cdff"/>
<circle cx="451.0" cy="273.5" r="5.20" fill="#00ffff"/>
<circle cx="461.0" cy="274.0" r="5.20" fill="#00ffe6"/>
<circle cx="428.8" cy="283.0" r="5.20" fill="#007bff"/>
<circle cx="453.5" cy="284.0" r="5.20" fill="#00faff"/>
<circle cx="416.8" cy="287.8" r="5.20" fill="#0036ff"/>
<circle cx="426.5" cy="292.0" r="5.20" fill="#0067ff"/>
<circle cx="438.5" cy="293.8" r="5.20" fill="#00a6ff"/>
<circle cx="448.0" cy="295.0" r="5.20" fill="#00d8ff"/>
<circle cx="455.0" cy="288.5" r="5.20" fill="#00feff"/>
<circle cx="411.5" cy="288.5" r="5.20" fill="#001aff"/>
<circle cx="414.5" cy="294.5" r="5.20" fill="#0028ff"/>
<circle cx="421.0" cy="302.0" r="5.20" fill="#0053ff"/>
<circle cx="430.0" cy="301.0" r="5.20" fill="#0080ff"/>
<circle cx="440.0" cy="302.0" r="5.20" fill="#00b5ff"/>
<circle cx="448.0" cy="302.0" r="5.20" fill="#00deff"/>
<circle cx="467.0" cy="303.5" r="5.20" fill="#00ffdc"/>
<circle cx="566.0" cy="286.6" r="5.20" fill="#4eff00"/>
<circle cx="559.0" cy="299.0" r="5.20" fill="#2bff00"/>
<circle cx="579.0" cy="312.4" r="5.20" fill="#98ff00"/>
<circle cx="633.0" cy="334.4" r="5.20" fill="#ffb900"/>
<circle cx="511.0" cy="321.0" r="5.20" fill="#00ff5a"/>
<circle cx="525.0" cy="323.6" r="5.20" fill="#00ff34"/>
<circle cx="537.0" cy="319.0" r="5.20" fill="#00ff19"/>
<circle cx="556.0" cy="313.0" r="5.20" fill="#27ff00"/>
<circle cx="550.0" cy="321.0" r="5.20" fill="#14ff00"/>
<circle cx="559.0" cy="326.4" r="5.20" fill="#49ff00"/>
<circle cx="569.0" cy="332.0" r="5.20" fill="#84ff00"/>
<circle cx="569.0" cy="341.0" r="5.20" fill="#97ff00"/>
<circle cx="524.0" cy="344.0" r="5.20" fill="#00ff1a"/>
<circle cx="512.0" cy="348.0" r="5.20" fill="#00ff2f"/>
<circle cx="507.5" cy="355.0" r="5.20" fill="#00ff2c"/>
<circle cx="513.0" cy="362.0" r="5.20" fill="#00ff10"/>
<circle cx="528.0" cy="356.0" r="5.20" fill="#09ff00"/>
<circle cx="534.0" cy="363.0" r="5.20" fill="#3dff00"/>
<circle cx="550.4" cy="348.6" r="5.20" fill="#55ff00"/>
<circle cx="555.0" cy="359.6" r="5.20" fill="#8cff00"/>
<circle cx="543.0" cy="368.0" r="5.20" fill="#76ff00"/>
<circle cx="557.0" cy="368.0" r="5.20" fill="#b2ff00"/>
<circle cx="502.0" cy="362.0" r="5.20" fill="#00ff28"/>
<circle cx="551.6" cy="373.0" r="5.20" fill="#adff00"/>
<circle cx="515.6" cy="376.0" r="5.20" fill="#29ff00"/>
<circle cx="529.4" cy="375.0" r="5.20" fill="#5aff00"/>
<circle cx="505.0" cy="386.6" r="5.20" fill="#35ff00"/>
<circle cx="524.6" cy="388.4" r="5.20" fill="#84ff00"/>
<circle cx="570.6" cy="397.0" r="5.20" fill="#ffdc00"/>
<circle cx="607.6" cy="385.0" r="5.20" fill="#ffb400"/>
<circle cx="630.0" cy="395.6" r="5.20" fill="#ff8300"/>
<circle cx="600.4" cy="427.0" r="5.20" fill="#ff8000"/>
<circle cx="517.4" cy="457.0" r="5.20" fill="#ffa900"/>
<circle cx="361.0" cy="427.0" r="5.20" fill="#44ff00"/>
<circle cx="364.0" cy="429.0" r="5.20" fill="#52ff00"/>
<circle cx="394.0" cy="423.0" r="5.20" fill="#2dff00"/>
<circle cx="416.0" cy="421.6" r="5.20" fill="#36ff00"/>
<circle cx="362.0" cy="442.0" r="5.20" fill="#afff00"/>
<circle cx="385.0" cy="445.4" r="5.20" fill="#c8ff00"/>
<circle cx="428.0" cy="450.6" r="5.20" fill="#fff900"/>
<circle cx="361.6" cy="466.4" r="5.20" fill="#ffdc00"/>
<circle cx="397.6" cy="478.4" r="5.20" fill="#ffbb00"/>
<circle cx="468.0" cy="500.0" r="5.20" fill="#ff6800"/>
<circle cx="324.0" cy="508.3" r="5.20" fill="#ff6800"/>
<circle cx="245.6" cy="426.0" r="5.20" fill="#f8ff00"/>
<circle cx="270.4" cy="432.6" r="5.20" fill="#e3ff00"/>
<circle cx="295.6" cy="442.6" r="5.20" fill="#f3ff00"/>
<circle cx="302.6" cy="419.0" r="5.20" fill="#49ff00"/>
<circle cx="322.4" cy="405.3" r="5.20" fill="#00ff1c"/>
<circle cx="331.4" cy="400.5" r="5.20" fill="#00ff34"/>
<circle cx="301.0" cy="401.8" r="5.20" fill="#00ff14"/>
<circle cx="202.6" cy="366.6" r="5.20" fill="#66ff00"/>
<circle cx="204.6" cy="369.4" r="5.20" fill="#68ff00"/>
<circle cx="197.4" cy="387.0" r="5.20" fill="#cfff00"/>
<circle cx="222.0" cy="332.4" r="5.20" fill="#00ff33"/>
<circle cx="262.0" cy="307.0" r="5.20" fill="#00ffb5"/>
<circle cx="246.0" cy="317.0" r="5.20" fill="#00ff83"/>
<circle cx="226.0" cy="315.0" r="5.20" fill="#00ff50"/>
<circle cx="232.0" cy="320.0" r="5.20" fill="#00ff5b"/>
<circle cx="240.0" cy="321.0" r="5.20" fill="#00ff6f"/>
<circle cx="264.0" cy="318.5" r="5.20" fill="#00ffaf"/>
<circle cx="271.0" cy="312.0" r="5.20" fill="#00ffc8"/>
<circle cx="287.0" cy="317.0" r="5.20" fill="#00ffeb"/>
<circle cx="233.5" cy="340.8" r="5.20" fill="#00ff42"/>
<circle cx="248.5" cy="329.5" r="5.20" fill="#00ff79"/>
<circle cx="253.0" cy="333.0" r="5.20" fill="#00ff7e"/>
<circle cx="250.0" cy="339.0" r="5.20" fill="#00ff6d"/>
<circle cx="265.0" cy="331.0" r="5.20" fill="#00ff9f"/>
<circle cx="275.0" cy="330.0" r="5.20" fill="#00ffb8"/>
<circle cx="282.0" cy="330.0" r="5.20" fill="#00ffc8"/>
<circle cx="276.0" cy="338.0" r="5.20" fill="#00ffaa"/>
<circle cx="284.0" cy="338.0" r="5.20" fill="#00ffbc"/>
<circle cx="264.5" cy="345.0" r="5.20" fill="#00ff82"/>
<circle cx="275.0" cy="345.0" r="5.20" fill="#00ff98"/>
<circle cx="248.0" cy="348.0" r="5.20" fill="#00ff56"/>
<circle cx="248.0" cy="354.0" r="5.20" fill="#00ff4a"/>
<circle cx="234.0" cy="355.5" r="5.20" fill="#00ff27"/>
<circle cx="259.5" cy="354.0" r="5.20" fill="#00ff62"/>
<circle cx="269.0" cy="357.0" r="5.20" fill="#00ff6e"/>
<circle cx="278.5" cy="360.0" r="5.20" fill="#00ff79"/>
<circle cx="288.0" cy="353.0" r="5.20" fill="#00ff9e"/>
<circle cx="283.0" cy="318.0" r="5.20" fill="#00ffdf"/>
<circle cx="282.0" cy="344.0" r="5.20" fill="#00ffa9"/>
<circle cx="290.0" cy="350.0" r="5.20" fill="#00ffaa"/>
<circle cx="290.0" cy="356.0" r="5.20" fill="#00ff99"/>
<circle cx="310.0" cy="318.0" r="5.20" fill="#00beff"/>
<circle cx="308.0" cy="326.0" r="5.20" fill="#00e8ff"/>
<circle cx="336.0" cy="305.0" r="5.20" fill="#0016ff"/>
<circle cx="324.0" cy="323.0" r="5.20" fill="#0099ff"/>
<circle cx="318.0" cy="333.0" r="5.20" fill="#00e4ff"/>
<circle cx="328.0" cy="333.0" r="5.20" fill="#00c3ff"/>
<circle cx="334.0" cy="327.0" r="5.20" fill="#008bff"/>
<circle cx="340.0" cy="326.0" r="5.20" fill="#0073ff"/>
<circle cx="339.0" cy="336.0" r="5.20" fill="#00b7ff"/>
<circle cx="346.0" cy="330.0" r="5.20" fill="#007eff"/>
<circle cx="352.0" cy="334.0" r="5.20" fill="#008eff"/>
<circle cx="352.5" cy="315.5" r="5.20" fill="#000dff"/>
<circle cx="357.0" cy="325.0" r="5.20" fill="#0045ff"/>
<circle cx="353.0" cy="306.0" r="5.20" fill="#0000e7"/>
<circle cx="344.0" cy="343.0" r="5.20" fill="#00dcff"/>
<circle cx="354.0" cy="343.0" r="5.20" fill="#00cdff"/>
<circle cx="350.0" cy="352.0" r="5.20" fill="#00fff5"/>
<circle cx="357.0" cy="350.0" r="5.20" fill="#00fdff"/>
<circle cx="320.0" cy="344.0" r="5.20" fill="#00ffef"/>
<circle cx="309.5" cy="344.0" r="5.20" fill="#00ffde"/>
<circle cx="322.0" cy="350.0" r="5.20" fill="#00ffdf"/>
<circle cx="329.0" cy="351.0" r="5.20" fill="#00ffe4"/>
<circle cx="334.0" cy="357.0" r="5.20" fill="#00ffd5"/>
<circle cx="320.0" cy="357.0" r="5.20" fill="#00ffc5"/>
<circle cx="307.0" cy="357.0" r="5.20" fill="#00ffb2"/>
<circle cx="422.0" cy="305.0" r="5.20" fill="#005fff"/>
<circle cx="378.0" cy="314.0" r="5.20" fill="#0000f4"/>
<circle cx="409.0" cy="320.0" r="5.20" fill="#0063ff"/>
<circle cx="415.0" cy="318.0" r="5.20" fill="#0070ff"/>
<circle cx="427.0" cy="315.0" r="5.20" fill="#0097ff"/>
<circle cx="362.0" cy="328.0" r="5.20" fill="#0055ff"/>
<circle cx="376.0" cy="326.0" r="5.20" fill="#0042ff"/>
<circle cx="387.0" cy="323.0" r="5.20" fill="#0039ff"/>
<circle cx="395.5" cy="326.0" r="5.20" fill="#005fff"/>
<circle cx="401.0" cy="325.0" r="5.20" fill="#0067ff"/>
<circle cx="420.0" cy="324.0" r="5.20" fill="#00a2ff"/>
<circle cx="428.0" cy="324.0" r="5.20" fill="#00c2ff"/>
<circle cx="367.0" cy="338.0" r="5.20" fill="#009dff"/>
<circle cx="383.0" cy="337.0" r="5.20" fill="#009aff"/>
<circle cx="393.0" cy="339.0" r="5.20" fill="#00b5ff"/>
<circle cx="407.0" cy="337.0" r="5.20" fill="#00c5ff"/>
<circle cx="419.0" cy="330.0" r="5.20" fill="#00beff"/>
<circle cx="419.0" cy="338.0" r="5.20" fill="#00edff"/>
<circle cx="427.0" cy="335.0" r="5.20" fill="#00f7ff"/>
<circle cx="360.0" cy="340.0" r="5.20" fill="#00b0ff"/>
<circle cx="356.0" cy="346.0" r="5.20" fill="#00e0ff"/>
<circle cx="375.0" cy="345.0" r="5.20" fill="#00d1ff"/>
<circle cx="370.0" cy="348.0" r="5.20" fill="#00e7ff"/>
<circle cx="404.0" cy="345.0" r="5.20" fill="#00f4ff"/>
<circle cx="390.0" cy="352.0" r="5.20" fill="#00fff6"/>
<circle cx="400.0" cy="352.0" r="5.20" fill="#00ffef"/>
<circle cx="406.0" cy="351.0" r="5.20" fill="#00ffed"/>
<circle cx="421.5" cy="353.0" r="5.20" fill="#00ffd4"/>
<circle cx="428.0" cy="348.0" r="5.20" fill="#00ffdb"/>
<circle cx="352.0" cy="355.5" r="5.20" fill="#00ffe9"/>
<circle cx="365.0" cy="355.0" r="5.20" fill="#00fff0"/>
<circle cx="378.5" cy="358.8" r="5.20" fill="#00ffe1"/>
<circle cx="422.0" cy="358.0" r="5.20" fill="#00ffc3"/>
<circle cx="431.0" cy="306.0" r="5.20" fill="#008eff"/>
<circle cx="439.0" cy="306.0" r="5.20" fill="#00b7ff"/>
<circle cx="443.0" cy="309.0" r="5.20" fill="#00d2ff"/>
<circle cx="457.0" cy="310.0" r="5.20" fill="#00fff1"/>
<circle cx="450.0" cy="313.0" r="5.20" fill="#00ffff"/>
<circle cx="442.0" cy="317.0" r="5.20" fill="#00e4ff"/>
<circle cx="459.0" cy="324.0" r="5.20" fill="#00ffd8"/>
<circle cx="437.0" cy="326.0" r="5.20" fill="#00f1ff"/>
<circle cx="447.0" cy="330.0" r="5.20" fill="#00ffe8"/>
<circle cx="458.0" cy="332.0" r="5.20" fill="#00ffcb"/>
<circle cx="439.0" cy="335.0" r="5.20" fill="#00ffec"/>
<circle cx="430.0" cy="337.0" r="5.20" fill="#00fff8"/>
<circle cx="474.0" cy="326.0" r="5.20" fill="#00ffb1"/>
<circle cx="486.0" cy="327.0" r="5.20" fill="#00ff92"/>
<circle cx="493.0" cy="331.0" r="5.20" fill="#00ff7a"/>
<circle cx="422.0" cy="340.0" r="5.20" fill="#00fffd"/>
<circle cx="432.0" cy="346.0" r="5.20" fill="#00ffda"/>
<circle cx="441.5" cy="355.0" r="5.20" fill="#00ffb0"/>
<circle cx="456.0" cy="351.0" r="5.20" fill="#00ffa1"/>
<circle cx="466.0" cy="348.0" r="5.20" fill="#00ff95"/>
<circle cx="479.0" cy="343.0" r="5.20" fill="#00ff85"/>
<circle cx="483.0" cy="340.0" r="5.20" fill="#00ff82"/>
<circle cx="492.0" cy="344.0" r="5.20" fill="#00ff65"/>
<circle cx="498.0" cy="342.0" r="5.20" fill="#00ff5b"/>
<circle cx="484.0" cy="348.0" r="5.20" fill="#00ff6f"/>
<circle cx="487.0" cy="355.0" r="5.20" fill="#00ff58"/>
<circle cx="496.0" cy="355.0" r="5.20" fill="#00ff45"/>
<circle cx="470.0" cy="359.0" r="5.20" fill="#00ff71"/>
<circle cx="234.0" cy="365.2" r="5.20" fill="#00ff12"/>
<circle cx="253.5" cy="360.0" r="5.20" fill="#00ff47"/>
<circle cx="262.0" cy="370.0" r="5.20" fill="#00ff3e"/>
<circle cx="274.0" cy="366.0" r="5.20" fill="#00ff60"/>
<circle cx="284.0" cy="367.0" r="5.20" fill="#00ff6e"/>
<circle cx="290.0" cy="371.0" r="5.20" fill="#00ff6c"/>
<circle cx="292.0" cy="359.0" r="5.20" fill="#00ff94"/>
<circle cx="278.0" cy="380.0" r="5.20" fill="#00ff3d"/>
<circle cx="283.0" cy="380.0" r="5.20" fill="#00ff45"/>
<circle cx="251.0" cy="384.5" r="5.20" fill="#00ff02"/>
<circle cx="264.2" cy="384.5" r="5.20" fill="#00ff19"/>
<circle cx="256.5" cy="392.0" r="5.20" fill="#14ff00"/>
<circle cx="254.0" cy="396.0" r="5.20" fill="#32ff00"/>
<circle cx="290.5" cy="391.0" r="5.20" fill="#00ff2c"/>
<circle cx="290.5" cy="396.5" r="5.20" fill="#00ff1a"/>
<circle cx="301.0" cy="384.5" r="5.20" fill="#00ff50"/>
<circle cx="311.8" cy="387.0" r="5.20" fill="#00ff54"/>
<circle cx="311.0" cy="393.0" r="5.20" fill="#00ff3e"/>
<circle cx="305.0" cy="359.0" r="5.20" fill="#00ffa9"/>
<circle cx="304.0" cy="366.0" r="5.20" fill="#00ff91"/>
<circle cx="312.0" cy="356.0" r="5.20" fill="#00ffbd"/>
<circle cx="311.0" cy="364.0" r="5.20" fill="#00ffa1"/>
<circle cx="320.0" cy="363.0" r="5.20" fill="#00ffb0"/>
<circle cx="317.0" cy="353.0" r="5.20" fill="#00ffce"/>
<circle cx="328.0" cy="364.0" r="5.20" fill="#00ffb6"/>
<circle cx="332.0" cy="366.0" r="5.20" fill="#00ffb3"/>
<circle cx="340.0" cy="365.0" r="5.20" fill="#00ffbd"/>
<circle cx="346.0" cy="369.0" r="5.20" fill="#00ffb3"/>
<circle cx="314.8" cy="374.0" r="5.20" fill="#00ff84"/>
<circle cx="326.8" cy="373.7" r="5.20" fill="#00ff92"/>
<circle cx="339.0" cy="376.0" r="5.20" fill="#00ff94"/>
<circle cx="337.0" cy="380.0" r="5.20" fill="#00ff84"/>
<circle cx="343.0" cy="380.0" r="5.20" fill="#00ff88"/>
<circle cx="351.0" cy="384.0" r="5.20" fill="#00ff7d"/>
<circle cx="351.0" cy="387.0" r="5.20" fill="#00ff71"/>
<circle cx="356.5" cy="375.0" r="5.20" fill="#00ffa1"/>
<circle cx="366.0" cy="380.0" r="5.20" fill="#00ff90"/>
<circle cx="360.5" cy="383.0" r="5.20" fill="#00ff84"/>
<circle cx="359.0" cy="364.0" r="5.20" fill="#00ffcc"/>
<circle cx="362.0" cy="356.0" r="5.20" fill="#00ffeb"/>
<circle cx="368.0" cy="369.0" r="5.20" fill="#00ffba"/>
<circle cx="366.0" cy="391.5" r="5.20" fill="#00ff64"/>
<circle cx="346.0" cy="398.0" r="5.20" fill="#00ff46"/>
<circle cx="351.0" cy="397.0" r="5.20" fill="#00ff4c"/>
<circle cx="358.0" cy="401.0" r="5.20" fill="#00ff3e"/>
<circle cx="366.0" cy="396.0" r="5.20" fill="#00ff53"/>
<circle cx="365.6" cy="412.6" r="5.20" fill="#00ff13"/>
<circle cx="370.0" cy="356.0" r="5.20" fill="#00ffec"/>
<circle cx="431.5" cy="350.5" r="5.20" fill="#00ffcd"/>
<circle cx="439.0" cy="355.5" r="5.20" fill="#00ffb2"/>
<circle cx="387.0" cy="364.0" r="5.20" fill="#00ffcb"/>
<circle cx="390.0" cy="366.0" r="5.20" fill="#00ffc2"/>
<circle cx="400.0" cy="364.0" r="5.20" fill="#00ffc3"/>
<circle cx="396.0" cy="366.0" r="5.20" fill="#00ffbf"/>
<circle cx="373.0" cy="369.5" r="5.20" fill="#00ffb9"/>
<circle cx="378.5" cy="374.5" r="5.20" fill="#00ffa5"/>
<circle cx="383.0" cy="379.0" r="5.20" fill="#00ff93"/>
<circle cx="425.5" cy="365.5" r="5.20" fill="#00ffa5"/>
<circle cx="410.0" cy="374.5" r="5.20" fill="#00ff95"/>
<circle cx="437.5" cy="371.8" r="5.20" fill="#00ff80"/>
<circle cx="435.0" cy="379.0" r="5.20" fill="#00ff6b"/>
<circle cx="375.0" cy="388.0" r="5.20" fill="#00ff72"/>
<circle cx="407.0" cy="386.0" r="5.20" fill="#00ff6d"/>
<circle cx="409.0" cy="389.0" r="5.20" fill="#00ff61"/>
<circle cx="408.0" cy="392.0" r="5.20" fill="#00ff56"/>
<circle cx="413.0" cy="396.5" r="5.20" fill="#00ff42"/>
<circle cx="424.8" cy="389.8" r="5.20" fill="#00ff50"/>
<circle cx="381.8" cy="396.5" r="5.20" fill="#00ff50"/>
<circle cx="398.0" cy="397.5" r="5.20" fill="#00ff47"/>
<circle cx="378.0" cy="406.0" r="5.20" fill="#00ff2c"/>
<circle cx="394.0" cy="409.0" r="5.20" fill="#00ff1d"/>
<circle cx="433.5" cy="408.0" r="5.20" fill="#00ff07"/>
<circle cx="505.0" cy="362.0" r="5.20" fill="#00ff22"/>
<circle cx="500.0" cy="365.0" r="5.20" fill="#00ff25"/>
<circle cx="496.0" cy="372.5" r="5.20" fill="#00ff1b"/>
<circle cx="468.0" cy="363.0" r="5.20" fill="#00ff6a"/>
<circle cx="472.0" cy="361.0" r="5.20" fill="#00ff68"/>
<circle cx="481.5" cy="364.8" r="5.20" fill="#00ff4b"/>
<circle cx="451.5" cy="370.0" r="5.20" fill="#00ff71"/>
<circle cx="454.5" cy="373.5" r="5.20" fill="#00ff62"/>
<circle cx="465.0" cy="374.0" r="5.20" fill="#00ff4f"/>
<circle cx="469.0" cy="377.0" r="5.20" fill="#00ff40"/>
<circle cx="456.2" cy="383.3" r="5.20" fill="#00ff40"/>
<circle cx="494.0" cy="383.0" r="5.20" fill="#00ff02"/>
<circle cx="488.0" cy="394.0" r="5.20" fill="#23ff00"/>
<circle cx="482.0" cy="401.0" r="5.20" fill="#39ff00"/>
<circle cx="469.0" cy="404.5" r="5.20" fill="#2aff00"/>
<circle cx="352.0" cy="244.0" r="5.20" fill="#00c1ff"/>
<circle cx="372.0" cy="242.0" r="5.20" fill="#00c2ff"/>
<circle cx="318.0" cy="258.0" r="5.20" fill="#00c4ff"/>
<circle cx="366.0" cy="252.0" r="5.20" fill="#0077ff"/>
<circle cx="373.0" cy="250.0" r="5.20" fill="#0085ff"/>
<circle cx="315.0" cy="263.0" r="5.20" fill="#00b8ff"/>
<circle cx="372.0" cy="262.0" r="5.20" fill="#002bff"/>
<circle cx="326.0" cy="271.0" r="5.20" fill="#0066ff"/>
<circle cx="344.0" cy="272.0" r="5.20" fill="#0019ff"/>
<circle cx="354.0" cy="273.0" r="5.20" fill="#0000f8"/>
<circle cx="365.0" cy="273.0" r="5.20" fill="#0000ec"/>
<circle cx="338.0" cy="278.0" r="5.20" fill="#0014ff"/>
<circle cx="348.0" cy="280.0" r="5.20" fill="#0000ef"/>
<circle cx="357.0" cy="279.0" r="5.20" fill="#0000e0"/>
<circle cx="366.0" cy="280.0" r="5.20" fill="#0000d2"/>
<circle cx="348.0" cy="288.0" r="5.20" fill="#0000e1"/>
<circle cx="376.0" cy="290.0" r="5.20" fill="#0000af"/>
<circle cx="325.0" cy="297.0" r="5.20" fill="#003cff"/>
<circle cx="338.0" cy="296.0" r="5.20" fill="#0000fb"/>
<circle cx="302.0" cy="297.0" r="5.20" fill="#00b5ff"/>
<circle cx="340.0" cy="421.4" r="5.20" fill="#28ff00"/>
<circle cx="354.4" cy="419.6" r="5.20" fill="#12ff00"/>
<circle cx="401.6" cy="416.6" r="5.20" fill="#05ff00"/>
<circle cx="455.0" cy="416.6" r="5.20" fill="#56ff00"/>
<circle cx="217.0" cy="244.0" r="5.20" fill="#00ff1a"/>
<circle cx="231.0" cy="245.5" r="5.20" fill="#00ff3e"/>
<circle cx="246.0" cy="249.0" r="5.20" fill="#00ff68"/>
<circle cx="306.0" cy="306.0" r="5.20" fill="#00adff"/>
<circle cx="318.0" cy="301.0" r="5.20" fill="#0066ff"/>
<circle cx="330.0" cy="306.0" r="5.20" fill="#0036ff"/>
<circle cx="318.0" cy="322.0" r="5.20" fill="#00acff"/>
<circle cx="368.0" cy="323.0" r="5.20" fill="#002bff"/>
<circle cx="312.0" cy="296.0" r="5.20" fill="#007fff"/>
<circle cx="380.0" cy="331.0" r="5.20" fill="#006aff"/>
<circle cx="372.0" cy="332.0" r="5.20" fill="#006fff"/>
<circle cx="399.0" cy="331.0" r="5.20" fill="#0089ff"/>
</g>
<g fill="#fff">
<circle cx="363.5" cy="264.0" r="1.5"/>
<circle cx="364.5" cy="269.5" r="1.2"/>
<circle cx="364.0" cy="260.0" r="1.1"/>
<circle cx="379.0" cy="272.0" r="1.2"/>
<circle cx="383.0" cy="279.0" r="1.5"/>
<circle cx="363.0" cy="294.0" r="2.4"/>
<circle cx="357.0" cy="295.0" r="1.5"/>
<circle cx="363.0" cy="287.5" r="1.5"/>
<circle cx="371.0" cy="293.0" r="1.5"/>
<circle cx="369.0" cy="298.5" r="1.2"/>
<circle cx="341.0" cy="290.0" r="1.2"/>
<circle cx="344.5" cy="304.5" r="1.8"/>
<circle cx="385.5" cy="302.5" r="1.2"/>
<circle cx="394.5" cy="280.0" r="0.9"/>
<circle cx="408.0" cy="270.0" r="1.2"/>
<circle cx="413.0" cy="272.0" r="1.2"/>
<circle cx="412.0" cy="281.0" r="1.5"/>
<circle cx="413.0" cy="301.0" r="1.5"/>
<circle cx="371.0" cy="312.0" r="1.5"/>
<circle cx="398.0" cy="313.0" r="0.9"/>
<circle cx="392.0" cy="261.0" r="0.9"/>
<circle cx="343.0" cy="257.0" r="1.2"/>
<circle cx="358.0" cy="250.5" r="1.5"/>
<circle cx="333.0" cy="282.0" r="1.2"/>
<circle cx="389.0" cy="258.0" r="1.2"/>
<circle cx="422.0" cy="260.0" r="1.8"/>
<circle cx="430.0" cy="248.0" r="1.5"/>
<circle cx="434.0" cy="287.0" r="1.5"/>
<circle cx="344.0" cy="309.0" r="1.2"/>
<circle cx="345.0" cy="314.0" r="1.2"/>
<circle cx="370.0" cy="318.0" r="0.9"/>
<circle cx="373.0" cy="332.0" r="0.9"/>
<circle cx="320.0" cy="283.0" r="1.5"/>
<circle cx="340.0" cy="318.0" r="1.2"/>
</g>
<g fill="none" stroke="#000" stroke-width="1" shape-rendering="crispEdges">
<rect x="70.5" y="56.5" width="590" height="474"/>
<path d="M65 524.5h5M65 518.5h5M65 512.5h5M65 506.5h5M65 499.5h5M65 493.5h5M65 487.5h5M65 481.5h5M60 475.5h10M65 469.5h5M65 463.5h5M65 457.5h5M65 451.5h5M65 445.5h5M65 438.5h5M65 432.5h5M65 426.5h5M65 420.5h5M60 414.5h10M65 408.5h5M65 402.5h5M65 396.5h5M65 390.5h5M65 384.5h5M65 377.5h5M65 371.5h5M65 365.5h5M65 359.5h5M60 353.5h10M65 347.5h5M65 341.5h5M65 335.5h5M65 329.5h5M65 323.5h5M65 316.5h5M65 310.5h5M65 304.5h5M65 298.5h5M60 292.5h10M65 286.5h5M65 280.5h5M65 274.5h5M65 268.5h5M65 262.5h5M65 255.5h5M65 249.5h5M65 243.5h5M65 237.5h5M60 231.5h10M65 225.5h5M65 219.5h5M65 213.5h5M65 207.5h5M65 201.5h5M65 194.5h5M65 188.5h5M65 182.5h5M65 176.5h5M60 170.5h10M65 164.5h5M65 158.5h5M65 152.5h5M65 146.5h5M65 140.5h5M65 133.5h5M65 127.5h5M65 121.5h5M65 115.5h5M60 109.5h10M65 103.5h5M65 97.5h5M65 91.5h5M65 85.5h5M65 79.5h5M65 72.5h5M65 66.5h5M65 60.5h5M109.5 531v10M197.5 531v10M284.5 531v10M371.5 531v10M458.5 531v10M546.5 531v10M633.5 531v10M118.5 531v5M127.5 531v5M135.5 531v5M144.5 531v5M153.5 531v5M162.5 531v5M171.5 531v5M179.5 531v5M188.5 531v5M206.5 531v5M214.5 531v5M223.5 531v5M232.5 531v5M241.5 531v5M249.5 531v5M258.5 531v5M267.5 531v5M275.5 531v5M293.5 531v5M301.5 531v5M310.5 531v5M319.5 531v5M328.5 531v5M336.5 531v5M345.5 531v5M354.5 531v5M362.5 531v5M380.5 531v5M388.5 531v5M397.5 531v5M406.5 531v5M415.5 531v5M423.5 531v5M432.5 531v5M441.5 531v5M449.5 531v5M467.5 531v5M476.5 531v5M484.5 531v5M493.5 531v5M502.5 531v5M511.5 531v5M520.5 531v5M528.5 531v5M537.5 531v5M555.5 531v5M563.5 531v5M572.5 531v5M581.5 531v5M590.5 531v5M598.5 531v5M607.5 531v5M616.5 531v5M624.5 531v5M75.5 531v5M83.5 531v5M92.5 531v5M101.5 531v5M642.5 531v5M650.5 531v5M659.5 531v5"/>
</g>
<text x="109.5" y="559" text-anchor="middle">-3</text>
<text x="197.5" y="559" text-anchor="middle">-2</text>
<text x="284.5" y="559" text-anchor="middle">-1</text>
<text x="371.5" y="559" text-anchor="middle">0</text>
<text x="458.5" y="559" text-anchor="middle">1</text>
<text x="546.5" y="559" text-anchor="middle">2</text>
<text x="633.5" y="559" text-anchor="middle">3</text>
<text x="55" y="480.2" text-anchor="end">-3</text>
<text x="55" y="419.2" text-anchor="end">-2</text>
<text x="55" y="358.2" text-anchor="end">-1</text>
<text x="55" y="297.2" text-anchor="end">0</text>
<text x="55" y="236.2" text-anchor="end">1</text>
<text x="55" y="175.2" text-anchor="end">2</text>
<text x="55" y="114.2" text-anchor="end">3</text>
<defs><linearGradient id="cb" x1="0" y1="1" x2="0" y2="0">
<stop offset="0.0000" stop-color="#000080"/>
<stop offset="0.1250" stop-color="#0000ff"/>
<stop offset="0.2520" stop-color="#00ffff"/>
<stop offset="0.5020" stop-color="#00ff00"/>
<stop offset="0.6360" stop-color="#ffff00"/>
<stop offset="1.0000" stop-color="#ff0000"/>
</linearGradient></defs>
<rect x="674" y="56" width="14" height="474" fill="url(#cb)"/>
<g fill="none" stroke="#000" stroke-width="1" shape-rendering="crispEdges">
<path d="M688.5 56v475M674 530.5h15M674 529.5h15M689 526.5h5M689 515.5h10M689 505.5h5M689 494.5h5M689 483.5h5M689 472.5h5M689 461.5h10M689 450.5h5M689 439.5h5M689 428.5h5M689 417.5h5M689 407.5h10M689 396.5h5M689 385.5h5M689 374.5h5M689 363.5h5M689 352.5h10M689 341.5h5M689 330.5h5M689 319.5h5M689 309.5h5M689 298.5h10M689 287.5h5M689 276.5h5M689 265.5h5M689 254.5h5M689 243.5h10M689 232.5h5M689 221.5h5M689 211.5h5M689 200.5h5M689 189.5h10M689 178.5h5M689 167.5h5M689 156.5h5M689 145.5h5M689 134.5h10M689 123.5h5M689 113.5h5M689 102.5h5M689 91.5h5M689 80.5h10M689 69.5h5M689 58.5h5"/>
</g>
<text x="703" y="520.2">0.0</text>
<text x="703" y="466.2">0.5</text>
<text x="703" y="412.2">1.0</text>
<text x="703" y="357.2">1.5</text>
<text x="703" y="303.2">2.0</text>
<text x="703" y="248.2">2.5</text>
<text x="703" y="194.2">3.0</text>
<text x="703" y="139.2">3.5</text>
<text x="703" y="85.2">4.0</text>
</svg></body></html>
